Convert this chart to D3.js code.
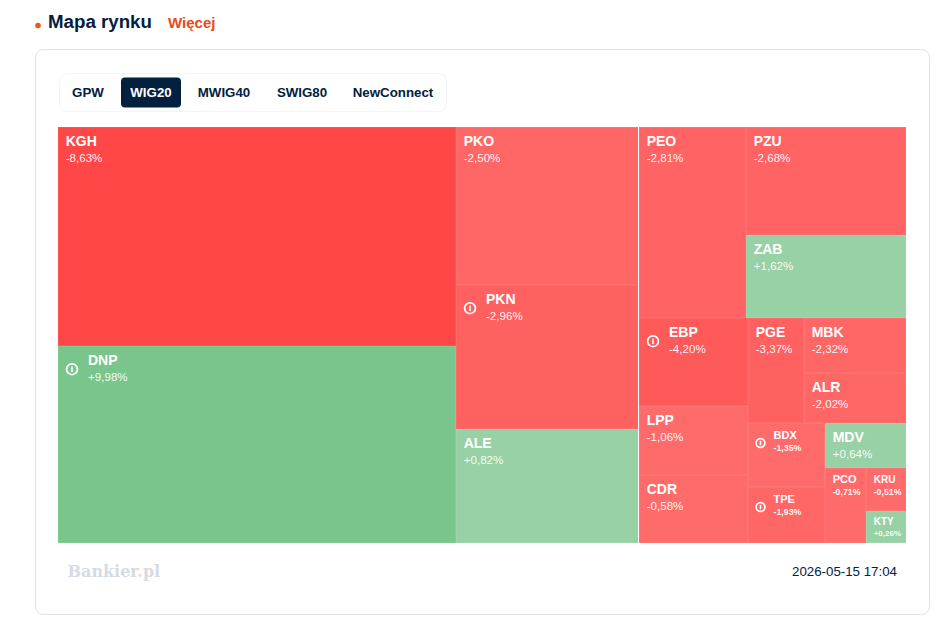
<!DOCTYPE html>
<html lang="pl">
<head>
<meta charset="utf-8">
<title>Mapa rynku</title>
<script src="https://cdn.jsdelivr.net/npm/d3@7"></script>
<style>
  html, body { margin: 0; padding: 0; background: #fff; }
  svg { display: block; font-family: "Liberation Sans", Arial, sans-serif; }
</style>
</head>
<body>
<div id="chart"></div>
<script>
const tabs = ["GPW", "WIG20", "MWIG40", "SWIG80", "NewConnect"];
const activeTab = "WIG20";
const timestamp = "2026-05-15 17:04";

const tickers = ["KGH", "DNP", "PKO", "PKN", "ALE", "PEO", "PZU", "ZAB", "EBP", "LPP", "CDR", "PGE", "MBK", "ALR", "BDX", "TPE", "MDV", "PCO", "KRU", "KTY"];
const changes = [-8.63, 9.98, -2.50, -2.96, 0.82, -2.81, -2.68, 1.62, -4.20, -1.06, -0.58, -3.37, -2.32, -2.02, -1.35, -1.93, 0.64, -0.71, -0.51, 0.26];
const weights = [87100, 78400, 28750, 26200, 20750, 20450, 17300, 13300, 9600, 7500, 7400, 5880, 5600, 5100, 4930, 4300, 3650, 3080, 1720, 1280];
const flagged = ["DNP", "PKN", "EBP", "BDX", "TPE"];

// nesting of the tiles, each level is split the other way round
const layout = [
  ["KGH", "DNP"],
  ["PKO", "PKN", "ALE"],
  [
    ["PEO", ["PZU", "ZAB"]],
    [
      ["EBP", "LPP", "CDR"],
      [
        ["PGE", ["MBK", "ALR"]],
        [
          ["BDX", "TPE"],
          ["MDV", ["PCO", ["KRU", "KTY"]]]
        ]
      ]
    ]
  ]
];

const navy = "#03203f";
const svg = d3.select("#chart").append("svg").attr("width", 948).attr("height", 623);

// header
svg.append("circle").attr("cx", 38).attr("cy", 25.5).attr("r", 2.8).attr("fill", "#f0561d");
svg.append("text").attr("x", 48).attr("y", 28).attr("font-size", 18.7).attr("font-weight", 700).attr("fill", navy).text("Mapa rynku");
svg.append("text").attr("x", 168).attr("y", 28).attr("font-size", 15).attr("font-weight", 700).attr("fill", "#e8491d").text("Więcej");

// card
svg.append("rect").attr("x", 35.5).attr("y", 49.5).attr("width", 894).attr("height", 565).attr("rx", 8)
  .attr("fill", "#fff").attr("stroke", "#e2e2e2");

// tabs
svg.append("rect").attr("x", 59.5).attr("y", 73.5).attr("width", 387).attr("height", 38).attr("rx", 8)
  .attr("fill", "#fff").attr("stroke", "#f4f4f4");
const tabCenters = d3.scaleOrdinal().domain(tabs).range([88, 151, 224, 302, 393]);
const tabWidths = d3.scaleOrdinal().domain(tabs).range([44, 60, 68, 64, 96]);
const tabG = svg.selectAll(".tab").data(tabs).enter().append("g").attr("class", "tab");
tabG.filter(d => d === activeTab).append("rect")
  .attr("x", d => tabCenters(d) - tabWidths(d) / 2).attr("y", 77.5)
  .attr("width", d => tabWidths(d)).attr("height", 30).attr("rx", 4).attr("fill", navy);
tabG.append("text")
  .attr("x", d => tabCenters(d)).attr("y", 97).attr("text-anchor", "middle")
  .attr("font-size", 13.3).attr("font-weight", 700)
  .attr("fill", d => d === activeTab ? "#fff" : navy).text(d => d);

// treemap
function toNode(item) {
  if (typeof item === "string") {
    const i = tickers.indexOf(item);
    return { name: item, change: changes[i], value: weights[i] };
  }
  return { children: item.map(toNode) };
}

const root = d3.hierarchy(toNode(layout)).sum(d => d.value || 0);
d3.treemap().tile(d3.treemapSliceDice).size([848, 416]).round(true)(root);

const redScale = d3.scaleThreshold().domain([-8, -4, -2.9, -2.6, -1.5]).range(["#ff4747", "#ff5a5a", "#ff6060", "#ff6363", "#ff6767", "#ff6b6b"]);
const color = v => v < 0 ? redScale(v) : (v > 5 ? "#7ac58c" : "#98d1a5");

const map = svg.append("g").attr("transform", "translate(58,127)");
const cells = map.selectAll(".cell").data(root.leaves()).enter().append("g")
  .attr("class", "cell").attr("transform", d => `translate(${d.x0},${d.y0})`);

cells.append("rect")
  .attr("width", d => d.x1 - d.x0).attr("height", d => d.y1 - d.y0)
  .attr("fill", d => color(d.data.change));
cells.append("rect")
  .attr("x", 0.5).attr("y", 0.5)
  .attr("width", d => d.x1 - d.x0 - 1).attr("height", d => d.y1 - d.y0 - 1)
  .attr("fill", "none").attr("stroke", "#fff").attr("stroke-opacity", 0.07);

// label sizes follow the tile size
const sized = d => ["BDX", "TPE", "PCO", "KRU", "KTY"].includes(d.data.name);
const hasFlag = d => flagged.includes(d.data.name);
const nameSize = d => sized(d) ? (["KRU", "KTY"].includes(d.data.name) ? 10 : 11) : 14;
const pctSize = d => {
  if (d.data.name === "KTY") return 8;
  return sized(d) ? 8.8 : 11.6;
};
const textX = d => hasFlag(d) ? (sized(d) ? 25.5 : 30) : 7.7;
const nameY = d => {
  if (d.data.name === "KTY") return 14;
  if (d.data.name === "PCO" || d.data.name === "KRU") return 14.5;
  return sized(d) ? 15.7 : 18.5;
};
const pctY = d => {
  if (d.data.name === "KTY") return 24.5;
  if (d.data.name === "PCO" || d.data.name === "KRU") return 27;
  return sized(d) ? 28 : 34.5;
};

cells.append("text")
  .attr("x", textX).attr("y", nameY)
  .attr("font-size", nameSize).attr("font-weight", 700).attr("fill", "#fff")
  .text(d => d.data.name);

cells.append("text")
  .attr("x", textX).attr("y", pctY)
  .attr("font-size", pctSize).attr("fill", "#fff").attr("fill-opacity", 0.95)
  .attr("font-weight", d => sized(d) ? 700 : 400)
  .text(d => (d.data.change > 0 ? "+" : "") + d3.format(".2f")(d.data.change).replace(".", ",").replace("\u2212", "-") + "%");

const icons = cells.filter(hasFlag).append("g")
  .attr("transform", d => sized(d) ? "translate(12.5,20)" : "translate(14,23.2)");
icons.append("circle").attr("r", d => sized(d) ? 4.4 : 5.4)
  .attr("fill", "none").attr("stroke", "#fff").attr("stroke-width", 1.7);
icons.append("line").attr("y1", d => sized(d) ? -2.2 : -2.8).attr("y2", d => sized(d) ? 2.2 : 2.8)
  .attr("stroke", "#fff").attr("stroke-width", 1.6);

// white gap before the third column
const thirdColumn = root.children[2];
map.append("line")
  .attr("x1", thirdColumn.x0 - 0.5).attr("x2", thirdColumn.x0 - 0.5)
  .attr("y1", 0).attr("y2", 416)
  .attr("stroke", "#fff").attr("stroke-width", 1);

// footer
const logo = svg.append("text").attr("x", 67.5).attr("y", 577).attr("font-family", "'DejaVu Serif', serif")
  .attr("font-size", 16).attr("font-weight", 700).attr("fill", "#d6dbe3");
logo.append("tspan").text("Bankier");
logo.append("tspan").attr("fill", "#f9d5c5").text(".");
logo.append("tspan").text("pl");
svg.append("text").attr("x", 897).attr("y", 576).attr("text-anchor", "end")
  .attr("font-size", 13.3).attr("fill", navy).text(timestamp);
</script>
</body>
</html>
